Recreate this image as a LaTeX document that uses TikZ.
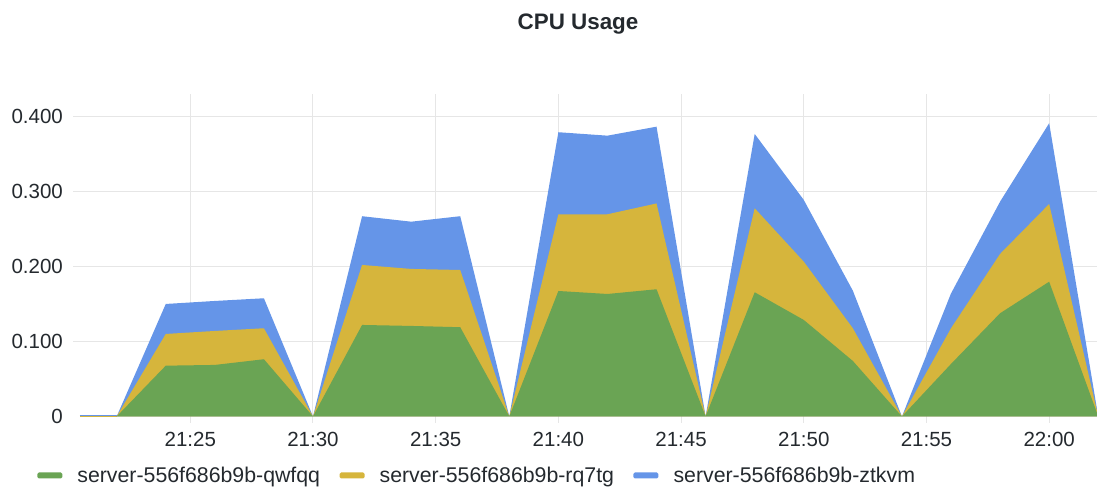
\documentclass[tikz,border=0pt]{standalone}
\usepackage{fontspec}
\setmainfont{Liberation Sans}
\usetikzlibrary{positioning, math}
\definecolor{mygreen}{RGB}{106,164,84}
\definecolor{myyellow}{RGB}{214,181,60}
\definecolor{myblue}{RGB}{101,149,232}
\definecolor{mygrid}{RGB}{230,230,230}
\definecolor{mytext}{RGB}{36,41,46}

\begin{document}
\begin{tikzpicture}[x=24.54pt, y=750pt,
  gridline/.style={draw=mygrid, line width=1pt},
  ticklabel/.style={text=mytext, inner sep=0pt, font=\fontsize{20.5}{24}\selectfont},
  legendtext/.style={ticklabel, font=\fontsize{21.3}{25}\selectfont, text height=16pt, text depth=1.6pt},
  swatch/.style={fill=#1, rounded corners=1.5pt, minimum width=25pt, minimum height=6pt, inner sep=0pt}]
\tikzmath{
\tmin=-2.755;
\tmax=41.95;
\vmin=-0.098;
\vmax=0.5553;
\ptop=0.43;
}
\useasboundingbox (\tmin,\vmin) rectangle (\tmax,\vmax);

\foreach \v in {0.1,0.2,0.3,0.4}
  \draw[gridline] (0.21,\v) -- (\tmax,\v);
\foreach \t in {5,10,...,40}
  \draw[gridline] (\t,-0.0087) -- (\t,\ptop);

\foreach \v/\lab/\n in {0/0/0, 0.1/0.100/1, 0.2/0.200/2, 0.3/0.300/3, 0.4/0.400/4}
  \node[ticklabel, anchor=east] (ylab\n) at (-0.187,\v) {\lab};
\foreach \t/\lab in {5/21:25, 10/21:30, 15/21:35, 20/21:40, 25/21:45, 30/21:50, 35/21:55, 40/22:00}
  \node[ticklabel] (xlab\t) at (\t,-0.0313) {\lab};

% stacked series
\draw[myyellow, line width=1.2pt] (0.5,0.0005) -- (2,0.0005);
\draw[myblue, line width=1.2pt] (0.5,0.0018) -- (2,0.0018);
\fill[myblue] (2,0) -- (4,.150) -- (6,.154) -- (8,.1576) -- (10,0) -- (12,.267) -- (14,.2597) -- (16,.267) -- (18,0)
  -- (20,.379) -- (22,.3744) -- (24,.3864) -- (26,0) -- (28,.3767) -- (30,.2887) -- (32,.1677) -- (34,0)
  -- (36,.164) -- (38,.2864) -- (40,.391) -- (42,0) -- cycle;
\fill[myyellow] (2,0) -- (4,.110) -- (6,.114) -- (8,.1176) -- (10,0) -- (12,.202) -- (14,.1967) -- (16,.1953) -- (18,0)
  -- (20,.2696) -- (22,.2696) -- (24,.284) -- (26,0) -- (28,.2776) -- (30,.2064) -- (32,.1176) -- (34,0)
  -- (36,.1176) -- (38,.2167) -- (40,.2833) -- (42,0) -- cycle;
\fill[mygreen] (2,0) -- (4,.0677) -- (6,.0687) -- (8,.0763) -- (10,0) -- (12,.122) -- (14,.1207) -- (16,.119) -- (18,0)
  -- (20,.1673) -- (22,.1633) -- (24,.1696) -- (26,0) -- (28,.1656) -- (30,.1287) -- (32,.074) -- (34,0)
  -- (36,.070) -- (38,.1376) -- (40,.1797) -- (42,0) -- cycle;

\node[text=mytext, inner sep=0pt, font=\bfseries\fontsize{22.4}{26}\selectfont] (title) at (20.80,0.5228) {CPU Usage};

\node[swatch=mygreen] (swq) at (-0.725,-0.0787) {};
\node[legendtext, right=14.7pt of swq] (legq) {server-556f686b9b-qwfqq};
\node[swatch=myyellow, right=19pt of legq] (swr) {};
\node[legendtext, right=14.7pt of swr] (legr) {server-556f686b9b-rq7tg};
\node[swatch=myblue, right=19pt of legr] (swz) {};
\node[legendtext, right=14.7pt of swz] (legz) {server-556f686b9b-ztkvm};
\end{tikzpicture}
\end{document}
